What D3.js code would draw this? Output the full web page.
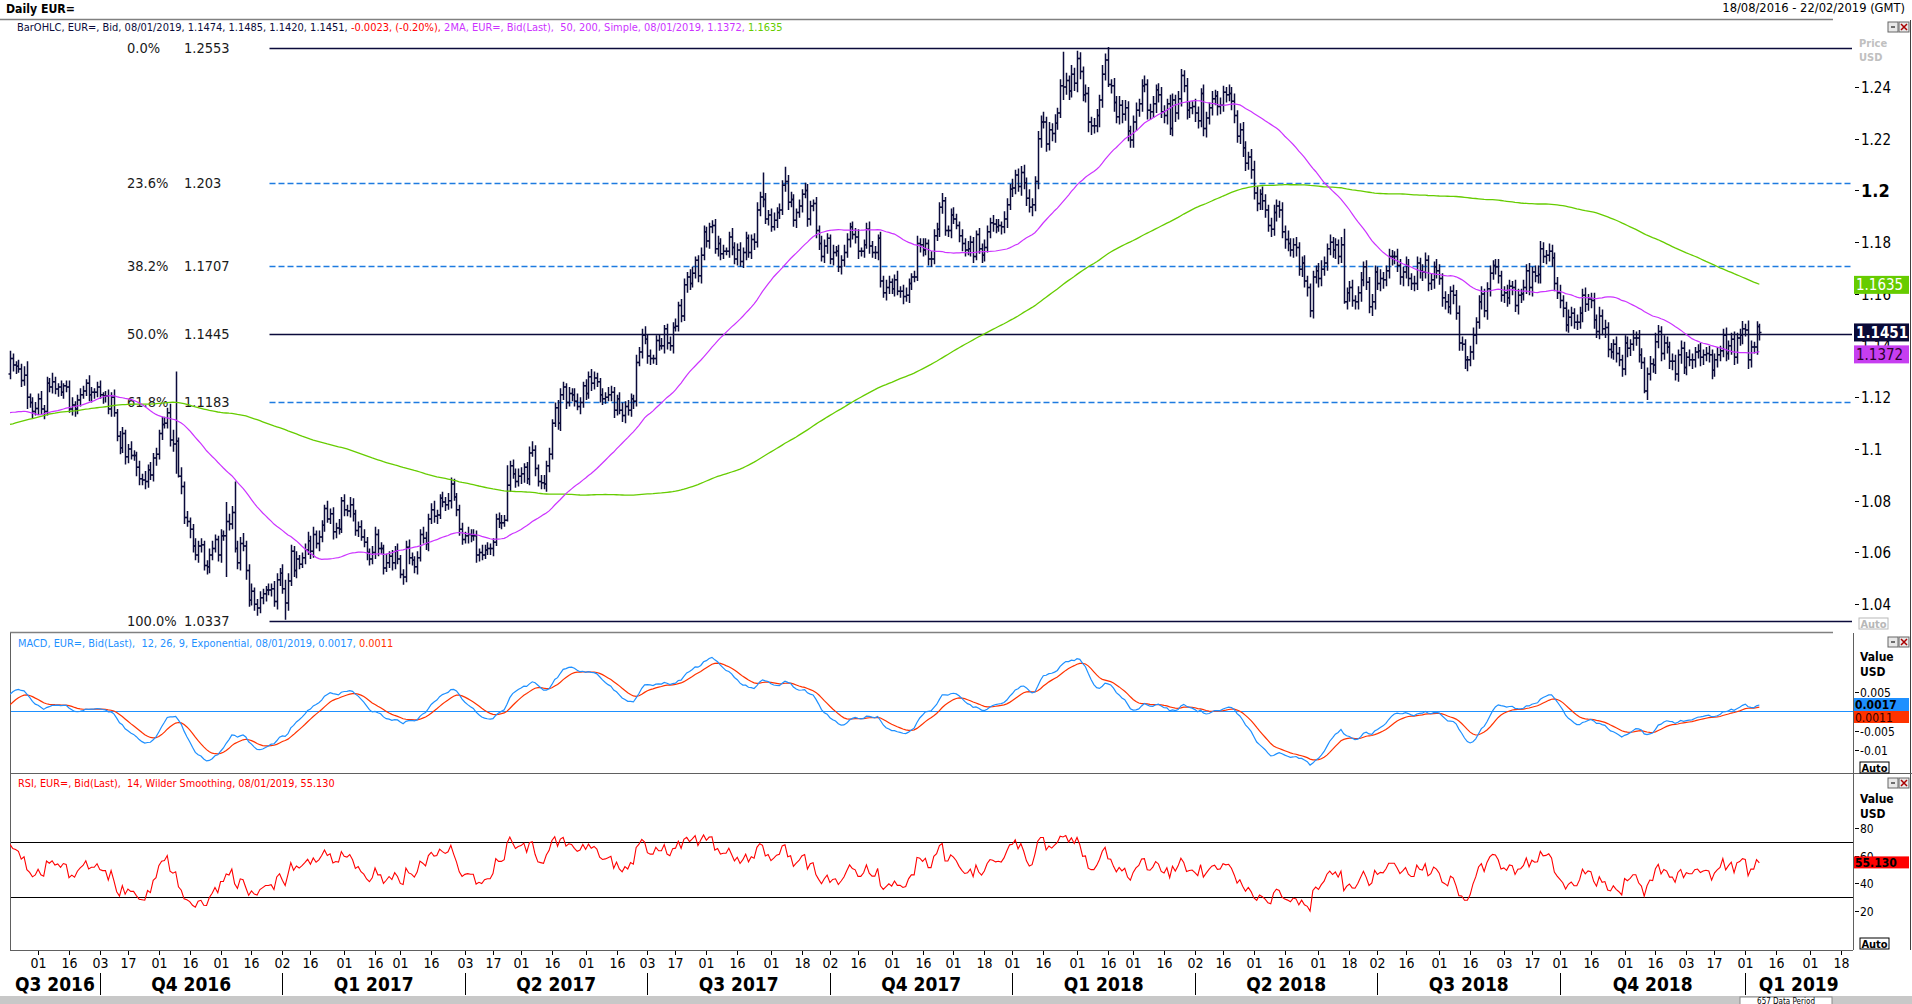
<!DOCTYPE html>
<html>
<head>
<meta charset="utf-8">
<script src="https://cdn.jsdelivr.net/npm/d3@7"></script>
<style>
body { margin: 0; background: #fff; overflow: hidden; }
svg { display: block; font-family: "DejaVu Sans Condensed", "DejaVu Sans", sans-serif; font-stretch: condensed; }
text { white-space: pre; }
</style>
</head>
<body>
<svg id="chart" width="1912" height="1004"></svg>
<script>
// daily closes before the visible window (Nov 2015 - 17 Aug 2016), needed by the 200 day average
var preCloses = [
1.1015,1.0955,1.0865,1.0880,1.0740,
1.0750,1.0725,1.0735,1.0815,1.0770,
1.0685,1.0645,1.0660,1.0735,1.0645,
1.0635,1.0645,1.0625,1.0615,1.0595,
1.0565,1.0630,1.0610,1.0940,1.0885,
1.0835,1.0895,1.1020,1.0990,1.0990,
1.0995,1.0935,1.0940,1.0830,1.0865,
1.0920,1.0960,1.0920,1.0960,1.0965,
1.0975,1.0930,1.0935,1.0860,1.0860,
1.0830,1.0745,1.0780,1.0930,1.0920,
1.0855,1.0850,1.0875,1.0865,1.0915,
1.0890,1.0895,1.0890,1.0875,1.0795,
1.0845,1.0870,1.0895,1.0940,1.0830,
1.0890,1.0920,1.1105,1.1210,1.1155,
1.1195,1.1285,1.1255,1.1320,1.1255,
1.1150,1.1145,1.1130,1.1105,1.1130,
1.1020,1.1025,1.1015,1.1020,1.0935,
1.0875,1.0870,1.0865,1.0955,1.1005,
1.1015,1.1005,1.0995,1.1180,1.1155,
1.1105,1.1090,1.1225,1.1305,1.1270,
1.1245,1.1220,1.1180,1.1180,1.1165,
1.1200,1.1300,1.1340,1.1380,1.1390,
1.1390,1.1385,1.1405,1.1380,1.1395,
1.1450,1.1385,1.1275,1.1265,1.1285,
1.1315,1.1355,1.1290,1.1225,1.1225,
1.1265,1.1300,1.1325,1.1355,1.1455,
1.1535,1.1500,1.1490,1.1400,1.1405,
1.1385,1.1370,1.1430,1.1370,1.1310,
1.1315,1.1315,1.1220,1.1200,1.1225,
1.1225,1.1140,1.1160,1.1195,1.1115,
1.1140,1.1130,1.1185,1.1155,1.1365,
1.1355,1.1360,1.1395,1.1315,1.1250,
1.1290,1.1215,1.1260,1.1220,1.1280,
1.1320,1.1280,1.1295,1.1380,1.1115,
1.1025,1.1065,1.1120,1.1105,1.1140,
1.1150,1.1070,1.1095,1.1060,1.1050,
1.1060,1.1055,1.1090,1.1125,1.1045,
1.1070,1.1015,1.1025,1.1025,1.0975,
1.0995,1.0985,1.1060,1.1075,1.1170,
1.1160,1.1225,1.1150,1.1125,1.1085,
1.1085,1.1080,1.1170,1.1140,1.1160,
1.1185,1.1280,1.1290
];

// daily closes, 18 Aug 2016 - 8 Jan 2019, one week per line
var closes = [
1.1350,1.1325,
1.1320,1.1310,1.1265,1.1285,1.1200,
1.1180,1.1145,1.1157,1.1195,1.1155,
1.1145,1.1255,1.1240,1.1260,1.1232,
1.1240,1.1220,1.1245,1.1240,1.1155,
1.1170,1.1155,1.1190,1.1210,1.1225,
1.1255,1.1210,1.1220,1.1220,1.1240,
1.1210,1.1205,1.1205,1.1155,1.1200,
1.1140,1.1050,1.1005,1.1060,1.0970,
1.1000,1.0975,1.0975,1.0930,1.0885,
1.0880,1.0875,1.0920,1.0900,1.0965,
1.0980,1.1060,1.1095,1.1100,1.1140,
1.1035,1.1020,1.1030,1.0895,1.0855,
1.0735,1.0720,1.0690,1.0625,1.0590,
1.0625,1.0630,1.0550,1.0545,1.0590,
1.0615,1.0650,1.0590,1.0665,1.0665,
1.0720,1.0710,1.0755,1.0615,1.0560,
1.0635,1.0625,1.0530,1.0415,1.0450,
1.0400,1.0385,1.0425,1.0440,1.0455,
1.0455,1.0460,1.0410,1.0495,1.0520,
1.0460,1.0405,1.0490,1.0605,1.0530,
1.0575,1.0555,1.0580,1.0610,1.0645,
1.0605,1.0670,1.0635,1.0660,1.0705,
1.0770,1.0730,1.0750,1.0680,1.0695,
1.0690,1.0800,1.0765,1.0760,1.0785,
1.0750,1.0685,1.0700,1.0660,1.0640,
1.0600,1.0575,1.0600,1.0670,1.0615,
1.0615,1.0540,1.0560,1.0585,1.0560,
1.0605,1.0575,1.0515,1.0505,1.0620,
1.0580,1.0570,1.0545,1.0580,1.0670,
1.0655,1.0635,1.0730,1.0765,1.0740,
1.0745,1.0810,1.0795,1.0785,1.0800,
1.0865,1.0815,1.0765,1.0690,1.0650,
1.0665,1.0670,1.0665,1.0665,1.0590,
1.0600,1.0590,1.0610,1.0615,1.0615,
1.0640,1.0730,1.0715,1.0715,1.0725,
1.0860,1.0935,1.0905,1.0875,1.0895,
1.0905,1.0930,1.0885,1.0985,1.0995,
1.0925,1.0875,1.0870,1.0865,1.0935,
1.0980,1.1100,1.1160,1.1100,1.1210,
1.1240,1.1180,1.1215,1.1210,1.1185,
1.1165,1.1180,1.1245,1.1215,1.1280,
1.1255,1.1275,1.1260,1.1210,1.1195,
1.1200,1.1210,1.1220,1.1150,1.1195,
1.1150,1.1130,1.1165,1.1150,1.1195,
1.1185,1.1335,1.1375,1.1440,1.1425,
1.1360,1.1350,1.1350,1.1420,1.1400,
1.1400,1.1465,1.1410,1.1400,1.1470,
1.1475,1.1555,1.1515,1.1635,1.1665,
1.1640,1.1680,1.1730,1.1670,1.1750,
1.1840,1.1805,1.1860,1.1865,1.1775,
1.1795,1.1755,1.1765,1.1765,1.1820,
1.1780,1.1735,1.1770,1.1725,1.1760,
1.1815,1.1760,1.1810,1.1800,1.1925,
1.1975,1.1965,1.1890,1.1905,1.1860,
1.1885,1.1915,1.1925,1.2020,1.2035,
1.1955,1.1965,1.1885,1.1915,1.1940,
1.1985,1.2000,1.1890,1.1940,1.1950,
1.1845,1.1795,1.1745,1.1785,1.1815,
1.1735,1.1760,1.1765,1.1705,1.1730,
1.1760,1.1810,1.1860,1.1830,1.1820,
1.1765,1.1765,1.1790,1.1850,1.1785,
1.1760,1.1760,1.1815,1.1650,1.1605,
1.1625,1.1645,1.1620,1.1655,1.1610,
1.1610,1.1590,1.1595,1.1640,1.1665,
1.1665,1.1795,1.1790,1.1770,1.1795,
1.1735,1.1735,1.1825,1.1850,1.1935,
1.1960,1.1845,1.1845,1.1905,1.1890,
1.1865,1.1825,1.1795,1.1770,1.1775,
1.1800,1.1745,1.1830,1.1775,1.1750,
1.1780,1.1840,1.1875,1.1870,1.1860,
1.1865,1.1860,1.1890,1.1945,1.2005,
1.2010,1.2060,1.2015,1.2070,1.2030,
1.1970,1.1935,1.1945,1.2035,1.2200,
1.2265,1.2265,1.2180,1.2235,1.2220,
1.2260,1.2300,1.2405,1.2400,1.2425,
1.2385,1.2450,1.2415,1.2510,1.2460,
1.2370,1.2375,1.2265,1.2250,1.2250,
1.2290,1.2350,1.2450,1.2505,1.2410,
1.2405,1.2340,1.2285,1.2330,1.2295,
1.2320,1.2230,1.2195,1.2265,1.2310,
1.2335,1.2405,1.2410,1.2310,1.2305,
1.2335,1.2390,1.2370,1.2305,1.2290,
1.2335,1.2240,1.2350,1.2300,1.2355,
1.2445,1.2405,1.2310,1.2320,1.2325,
1.2300,1.2270,1.2375,1.2240,1.2280,
1.2320,1.2355,1.2365,1.2325,1.2330,
1.2380,1.2370,1.2375,1.2345,1.2290,
1.2210,1.2235,1.2165,1.2105,1.2130,
1.2080,1.1990,1.1950,1.1985,1.1960,
1.1925,1.1865,1.1850,1.1915,1.1940,
1.1925,1.1840,1.1810,1.1795,1.1770,
1.1790,1.1780,1.1695,1.1720,1.1650,
1.1625,1.1535,1.1665,1.1690,1.1660,
1.1695,1.1720,1.1775,1.1800,1.1770,
1.1790,1.1745,1.1790,1.1570,1.1605,
1.1625,1.1575,1.1570,1.1605,1.1655,
1.1705,1.1645,1.1550,1.1570,1.1685,
1.1640,1.1660,1.1655,1.1690,1.1745,
1.1745,1.1745,1.1710,1.1665,1.1685,
1.1710,1.1660,1.1640,1.1640,1.1720,
1.1690,1.1685,1.1730,1.1640,1.1655,
1.1705,1.1690,1.1660,1.1585,1.1570,
1.1550,1.1610,1.1595,1.1525,1.1410,
1.1405,1.1345,1.1345,1.1375,1.1440,
1.1490,1.1570,1.1600,1.1535,1.1620,
1.1680,1.1710,1.1705,1.1670,1.1595,
1.1605,1.1585,1.1630,1.1625,1.1555,
1.1595,1.1600,1.1625,1.1690,1.1625,
1.1685,1.1670,1.1675,1.1775,1.1745,
1.1750,1.1765,1.1740,1.1640,1.1605,
1.1575,1.1545,1.1480,1.1510,1.1525,
1.1490,1.1490,1.1525,1.1595,1.1560,
1.1580,1.1575,1.1500,1.1455,1.1515,
1.1465,1.1470,1.1385,1.1375,1.1405,
1.1370,1.1345,1.1310,1.1410,1.1390,
1.1405,1.1430,1.1430,1.1365,1.1335,
1.1225,1.1290,1.1330,1.1325,1.1415,
1.1455,1.1370,1.1410,1.1395,1.1340,
1.1340,1.1290,1.1365,1.1390,1.1315,
1.1355,1.1345,1.1345,1.1375,1.1380,
1.1355,1.1365,1.1370,1.1365,1.1305,
1.1345,1.1365,1.1380,1.1440,1.1370,
1.1400,1.1425,1.1355,1.1430,1.1440,
1.1465,1.1460,1.1345,1.1395,1.1395,
1.1474,1.1451
];

// pips above max(open, close) and below min(open, close), ten bars per line
var upWick = [
30,20,15,25,20,35,55,15,20,25,
20,30,15,25,20,35,20,15,25,10,
20,25,30,15,20,25,20,15,30,20,
15,20,25,10,20,25,20,30,15,20,
25,15,20,30,20,15,25,20,35,20,
30,20,25,15,30,25,20,35,40,270,
15,35,20,25,15,20,30,20,25,15,
20,25,30,20,15,25,20,75,30,25,
120,30,25,40,20,25,30,15,20,25,
20,15,25,20,30,25,20,35,35,30,
25,20,30,15,20,25,35,20,30,15,
25,20,15,30,20,25,20,35,15,25,
20,30,25,15,20,25,30,20,15,25,
30,20,25,15,35,20,25,20,30,15,
20,25,30,20,15,25,20,30,25,20,
25,35,20,15,25,20,30,25,20,15,
20,25,15,30,20,25,20,15,30,20,
25,20,15,20,25,30,20,77,20,25,
20,30,25,15,20,25,35,20,15,25,
30,20,25,15,20,30,25,20,15,25,
20,25,30,20,15,25,20,30,25,20,
15,25,20,30,25,20,15,25,30,20,
25,20,15,30,20,25,35,20,25,15,
20,25,30,15,20,25,20,30,15,25,
25,20,30,25,15,20,30,25,20,15,
20,25,30,20,25,15,20,35,20,25,
30,20,25,15,20,25,30,20,95,25,
20,25,30,20,25,20,57,25,30,20,
15,25,20,30,25,20,15,25,20,30,
25,20,15,30,20,25,20,30,25,15,
20,25,30,15,20,25,30,20,25,15,
25,20,30,25,15,20,35,20,25,30,
20,15,25,30,20,25,20,15,30,25,
25,20,30,15,20,25,30,20,15,25,
20,30,25,20,15,25,20,30,25,20,
30,20,25,15,30,25,20,35,20,25,
25,30,20,35,25,20,30,25,40,20,
30,25,35,20,25,132,30,20,35,25,
30,25,20,35,25,20,30,25,20,35,
25,50,20,30,25,35,20,30,25,20,
25,30,20,25,35,20,25,30,20,25,
30,25,20,35,25,20,30,25,20,30,
25,20,30,25,20,35,25,20,30,25,
20,30,25,20,35,25,30,20,25,30,
25,20,30,35,25,20,30,25,20,30,
30,25,20,30,25,35,20,25,30,20,
25,30,20,15,25,20,30,35,25,20,
30,20,25,20,30,62,20,25,30,20,
25,30,20,25,20,30,25,20,35,25,
20,30,25,20,30,25,20,35,25,20,
30,25,20,25,30,20,25,20,30,25,
20,25,30,20,25,20,30,25,20,15,
25,30,20,25,30,20,25,30,20,25,
30,20,25,30,25,20,30,25,20,30,
25,30,20,25,35,30,25,20,30,25,
20,25,30,20,25,30,25,20,30,25,
25,30,20,25,30,20,35,25,30,20,
25,20,30,25,20,30,25,20,30,25,
30,25,20,25,30,20,35,25,20,30,
25,20,30,25,20,30,25,20,30,25,
20,25,30,20,25,30,20,25,30,20,
25,30,20,25,30,20,25,30,20,37,
25,20,20,11
];
var dnWick = [
20,25,30,15,25,20,45,20,25,15,
25,20,30,15,20,25,20,30,15,25,
20,15,25,30,20,25,15,20,25,30,
25,20,15,30,25,20,30,15,20,25,
20,30,25,15,20,35,25,20,30,25,
20,25,30,20,25,15,20,25,30,115,
5,30,25,20,35,25,20,30,25,20,
30,25,20,15,25,30,20,160,25,20,
15,25,30,20,35,25,20,25,30,20,
25,30,20,25,20,30,25,20,65,30,
20,25,30,20,15,25,20,30,25,20,
30,20,25,15,20,30,25,20,15,25,
20,25,30,20,25,15,20,30,25,20,
25,30,20,25,15,20,30,25,20,15,
30,20,25,20,25,30,15,20,25,30,
20,25,30,15,20,25,20,30,15,25,
25,20,15,30,25,20,30,25,20,15,
20,25,30,15,20,25,15,5,25,20,
25,20,30,35,20,25,15,30,20,25,
20,30,25,20,15,25,30,20,25,15,
25,20,15,30,20,25,20,30,25,20,
30,25,20,15,25,30,20,15,25,30,
20,25,30,20,15,25,20,30,25,20,
25,20,15,30,25,20,30,15,20,25,
20,30,25,15,20,25,30,20,25,30,
25,20,30,25,20,15,25,30,20,25,
20,25,30,20,25,30,20,25,30,20,
25,20,15,30,25,20,25,30,20,25,
30,20,25,15,30,25,20,30,25,20,
25,30,20,25,15,20,30,25,20,30,
20,25,30,20,25,15,30,20,25,30,
25,20,30,25,20,30,15,25,30,20,
30,25,20,15,30,25,20,25,30,20,
20,30,25,20,25,30,20,15,25,30,
25,20,30,25,15,20,30,25,20,25,
30,25,20,30,25,35,20,30,25,20,
35,25,30,20,35,25,30,35,25,30,
25,30,35,25,20,50,30,35,25,30,
35,30,25,30,40,35,30,25,45,30,
25,10,30,35,25,30,35,25,40,30,
30,35,25,30,25,35,30,25,35,30,
25,30,35,25,30,35,25,30,25,35,
30,25,35,30,25,30,35,25,30,25,
35,30,25,30,25,35,30,25,30,35,
30,25,35,25,30,25,35,30,25,30,
25,35,30,25,35,30,25,30,35,25,
30,25,35,25,30,25,35,30,25,30,
25,30,35,30,25,8,30,35,25,30,
30,35,25,30,25,35,30,25,30,35,
25,30,35,30,25,30,35,25,30,25,
30,25,30,35,25,30,25,35,30,25,
35,30,25,30,35,25,30,25,35,44,
25,30,35,25,30,25,35,30,25,30,
30,25,30,35,25,30,25,35,30,25,
25,30,35,25,30,35,25,30,25,35,
30,25,30,35,25,30,35,25,30,25,
35,30,25,30,35,25,30,25,35,30,
25,30,35,25,30,25,35,30,25,30,
30,25,9,35,25,30,35,25,30,25,
25,30,35,25,30,35,25,30,25,35,
30,25,35,30,25,30,35,25,30,25,
25,30,25,35,30,25,30,35,25,35,
30,25,30,31
];

var fibPct = ["0.0%", "23.6%", "38.2%", "50.0%", "61.8%", "100.0%"];
var fibLevel = [1.2553, 1.203, 1.1707, 1.1445, 1.1183, 1.0337];
var fibText = ["1.2553", "1.203", "1.1707", "1.1445", "1.1183", "1.0337"];
var priceTicks = [1.04, 1.06, 1.08, 1.1, 1.12, 1.14, 1.16, 1.18, 1.2, 1.22, 1.24];
var macdTicks = [0.005, -0.005, -0.01];
var rsiTicks = [20, 40, 60, 80];
var lastOHLC = ["1.1474", "1.1485", "1.1420", "1.1451"];
var lastChange = "-0.0023, (-0.20%)";
var maLast = [1.1372, 1.1635];
var macdLast = [0.0017, 0.0011];
var rsiLast = 55.130;
var periodCount = 657;

var svg = d3.select("#chart");
var NAVY = "#0b0b3b", FIBBLUE = "#1e7be0", MAGENTA = "#cc33ff", GREEN = "#66cc00";
var MACDBLUE = "#1e90ff", MACDRED = "#ff3300";

// business days from 18 Aug 2016 to 22 Feb 2019
var days = [], d = new Date(2016, 7, 18);
while (days.length < periodCount) {
    if (d.getDay() % 6 !== 0) days.push(new Date(d));
    d.setDate(d.getDate() + 1);
}

var x = d3.scaleLinear().domain([0, periodCount - 1]).range([10, 1852]);
var y = d3.scaleLinear().domain([1.0337, 1.2553]).range([620.5, 47.5]);
var ym = d3.scaleLinear().domain([-0.01, 0.005]).range([750.2, 691.7]);
var yr = d3.scaleLinear().domain([20, 80]).range([911, 828]);

// indicators
var all = preCloses.concat(closes), off = preCloses.length;
function sma(n) {
    return closes.map(function(c, i) {
        var s = 0;
        for (var k = i + off - n + 1; k <= i + off; k++) s += all[k];
        return s / n;
    });
}
function ema(arr, n) {
    var a = 2 / (n + 1), e = arr[0];
    return arr.map(function(v, i) { e = i ? a * v + (1 - a) * e : v; return e; });
}
var ma50 = sma(50), ma200 = sma(200);
var e12 = ema(all, 12), e26 = ema(all, 26);
var macdAll = e12.map(function(v, i) { return v - e26[i]; });
var sigAll = ema(macdAll, 9);
var macd = macdAll.slice(off), signal = sigAll.slice(off);
var rsiAll = [], ag = 0, al = 0;
for (var i = 1; i < all.length; i++) {
    var ch = all[i] - all[i - 1], g = Math.max(ch, 0), l = Math.max(-ch, 0);
    if (i <= 14) { ag += g / 14; al += l / 14; }
    else { ag = (ag * 13 + g) / 14; al = (al * 13 + l) / 14; }
    rsiAll[i] = al === 0 ? 100 : 100 - 100 / (1 + ag / al);
}
var rsi = rsiAll.slice(off);

function txt(g, xx, yy, s, size, fill, weight, anchor) {
    return g.append("text").attr("x", xx).attr("y", yy).text(s)
        .attr("font-size", size).attr("fill", fill || "#000")
        .attr("font-weight", weight || "normal").attr("text-anchor", anchor || "start");
}
function fit(sel, w) {
    var bw = sel.node().getComputedTextLength();
    sel.attr("font-size", parseFloat(sel.attr("font-size")) * w / bw);
}
function hline(x1, x2, yy, col, sw, dash) {
    svg.append("line").attr("x1", x1).attr("x2", x2).attr("y1", yy).attr("y2", yy)
        .attr("stroke", col).attr("stroke-width", sw || 1).attr("stroke-dasharray", dash || null);
}
function vline(xx, y1, y2, col, sw) {
    svg.append("line").attr("x1", xx).attr("x2", xx).attr("y1", y1).attr("y2", y2)
        .attr("stroke", col).attr("stroke-width", sw || 1);
}
function winIcons(yy) {
    [1888, 1899].forEach(function(xx, k) {
        svg.append("rect").attr("x", xx).attr("y", yy).attr("width", 10).attr("height", 10)
            .attr("fill", "#e8e8e8").attr("stroke", "#666");
        if (k === 0) hline(xx + 3, xx + 7, yy + 5, "#444", 1.5);
        else svg.append("path").attr("d", "M" + (xx + 2) + "," + (yy + 2) + "l6,6m0,-6l-6,6")
            .attr("stroke", "#a00").attr("stroke-width", 1.5);
    });
}
function autoBox(xx, yy, col) {
    svg.append("rect").attr("x", xx).attr("y", yy).attr("width", 29).attr("height", 11)
        .attr("fill", "#fff").attr("stroke", col);
    txt(svg, xx + 14.5, yy + 9.5, "Auto", 11, col, "bold", "middle");
}
function tag(yc, label, bg, fg, weight) {
    svg.append("rect").attr("x", 1854).attr("y", yc - 9).attr("width", 55).attr("height", 18).attr("fill", bg);
    txt(svg, 1856, yc + 5.5, label, 15, fg, weight);
}

// header
fit(txt(svg, 6, 13, "Daily EUR=", 13, "#000", "bold"), 69);
fit(txt(svg, 1905, 12, "18/08/2016 - 22/02/2019 (GMT)", 13, "#000", "normal", "end"), 183);
hline(0, 1833, 19.5, "#808080", 1.5);
var leg = svg.append("text").attr("x", 17).attr("y", 31).attr("font-size", 11);
leg.append("tspan").attr("fill", NAVY).text("BarOHLC, EUR=, Bid, 08/01/2019, " + lastOHLC.join(", ") + ", ");
leg.append("tspan").attr("fill", "#ff0000").text(lastChange + ", ");
leg.append("tspan").attr("fill", MAGENTA).text("2MA, EUR=, Bid(Last),  50, 200, Simple, 08/01/2019, " + maLast[0].toFixed(4) + ", ");
leg.append("tspan").attr("fill", GREEN).text(maLast[1].toFixed(4));
fit(leg, 767);
winIcons(22);
txt(svg, 1859, 47, "Price", 11, "#c0c0c0", "bold");
txt(svg, 1859, 61, "USD", 11, "#c0c0c0", "bold");

// fibonacci retracement
fibLevel.forEach(function(v, k) {
    var solid = (k === 0 || k === 3 || k === 5);
    hline(269.5, 1852, Math.round(y(v)) + 0.5, solid ? NAVY : FIBBLUE, 1.5, solid ? null : "6,3");
    txt(svg, 127, y(v) + 5, fibPct[k], 14.5, "#1a1a1a");
    txt(svg, 184, y(v) + 5, fibText[k], 14.5, "#1a1a1a");
});

// OHLC bars
svg.append("g").selectAll("path").data(closes).enter().append("path")
    .attr("d", function(c, i) {
        var o = i ? closes[i - 1] : preCloses[preCloses.length - 1];
        var h = Math.max(o, c) + (upWick[i] || 0) / 10000;
        var lo = Math.min(o, c) - (dnWick[i] || 0) / 10000;
        var xx = Math.round(x(i)) + 0.5;
        return "M" + xx + "," + y(h) + "V" + y(lo) + "M" + (xx - 2) + "," + y(o) + "H" + xx +
            "M" + xx + "," + y(c) + "H" + (xx + 2);
    })
    .attr("fill", "none").attr("stroke", NAVY).attr("stroke-width", 1.5);

// moving averages
var lineP = function(arr, sc) {
    return d3.line().x(function(v, i) { return x(i); }).y(function(v) { return sc(v); })(arr);
};
svg.append("path").attr("d", lineP(ma200, y)).attr("fill", "none").attr("stroke", GREEN).attr("stroke-width", 1.3);
svg.append("path").attr("d", lineP(ma50, y)).attr("fill", "none").attr("stroke", MAGENTA).attr("stroke-width", 1.2);

// price axis
priceTicks.forEach(function(v) {
    var yy = Math.round(y(v)) + 0.5, big = Math.abs(v - 1.2) < 1e-9;
    hline(1855, 1859, yy, "#000", 1);
    txt(svg, 1861, yy + (big ? 6.5 : 5.5), String(+v.toFixed(2)), big ? 18 : 15, "#000", big ? "bold" : "normal");
});
tag(y(maLast[1]), maLast[1].toFixed(4), GREEN, "#fff");
tag(y(closes[closes.length - 1]), closes[closes.length - 1].toFixed(4), "#0a0a38", "#fff", "bold");
tag(y(maLast[0]) + 1.5, maLast[0].toFixed(4), "#c63ef0", "#2a002a");
autoBox(1859, 618, "#b8b8b8");
vline(1910.5, 20, 950, "#404040", 1);

// panel frames
hline(10, 1833, 632.5, "#808080", 1.5);
vline(10.5, 633, 950, "#606060", 1);
vline(1853.5, 633, 950, "#606060", 1);
hline(10, 1912, 773.5, "#606060", 1);
hline(10, 1853, 950.5, "#606060", 1);

// MACD panel
svg.append("clipPath").attr("id", "cm").append("rect").attr("x", 10).attr("y", 634).attr("width", 1843).attr("height", 139);
hline(11, 1853, Math.round(ym(0)) + 0.5, MACDBLUE, 1.2);
var gm = svg.append("g").attr("clip-path", "url(#cm)");
gm.append("path").attr("d", lineP(signal, ym)).attr("fill", "none").attr("stroke", MACDRED).attr("stroke-width", 1.2);
gm.append("path").attr("d", lineP(macd, ym)).attr("fill", "none").attr("stroke", MACDBLUE).attr("stroke-width", 1.2);
var ml = svg.append("text").attr("x", 18).attr("y", 647).attr("font-size", 11);
ml.append("tspan").attr("fill", MACDBLUE).text("MACD, EUR=, Bid(Last),  12, 26, 9, Exponential, 08/01/2019, " + macdLast[0].toFixed(4) + ", ");
ml.append("tspan").attr("fill", MACDRED).text(macdLast[1].toFixed(4));
fit(ml, 376);
winIcons(637);
txt(svg, 1860, 661, "Value", 12, "#000", "bold");
txt(svg, 1860, 676, "USD", 12, "#000", "bold");
macdTicks.forEach(function(v) {
    var yy = Math.round(ym(v)) + 0.5;
    hline(1855, 1859, yy, "#000", 1);
    txt(svg, 1860, yy + 4.5, String(v), 12, "#000");
});
svg.append("rect").attr("x", 1854).attr("y", 698).attr("width", 55).attr("height", 13).attr("fill", MACDBLUE);
txt(svg, 1855, 709, macdLast[0].toFixed(4), 12, "#000", "bold");
svg.append("rect").attr("x", 1854).attr("y", 711).attr("width", 55).attr("height", 12).attr("fill", MACDRED);
txt(svg, 1855, 721.5, macdLast[1].toFixed(4), 12, "#300");
autoBox(1860, 762, "#000");

// RSI panel
svg.append("clipPath").attr("id", "cr").append("rect").attr("x", 10).attr("y", 775).attr("width", 1843).attr("height", 175);
hline(11, 1853, Math.round(yr(70)) + 0.5, "#000", 1);
hline(11, 1853, Math.round(yr(30)) + 0.5, "#000", 1);
svg.append("g").attr("clip-path", "url(#cr)").append("path").attr("d", lineP(rsi, yr))
    .attr("fill", "none").attr("stroke", "#ff0000").attr("stroke-width", 1.1);
fit(txt(svg, 18, 787, "RSI, EUR=, Bid(Last),  14, Wilder Smoothing, 08/01/2019, " + rsiLast.toFixed(3), 11, "#ff0000"), 317);
winIcons(778);
txt(svg, 1860, 803, "Value", 12, "#000", "bold");
txt(svg, 1860, 818, "USD", 12, "#000", "bold");
rsiTicks.forEach(function(v) {
    var yy = Math.round(yr(v)) + 0.5;
    hline(1855, 1859, yy, "#000", 1);
    txt(svg, 1860, yy + 4.5, String(v), 12, "#000");
});
svg.append("rect").attr("x", 1854).attr("y", yr(rsiLast) - 6).attr("width", 55).attr("height", 12).attr("fill", "#ff0000");
txt(svg, 1855, yr(rsiLast) + 4.5, rsiLast.toFixed(3), 12, "#000", "bold");
autoBox(1860, 938, "#000");

// date axis
var fmtDay = d3.timeFormat("%d");
for (var t = 1; t < days.length; t++) {
    var p = days[t - 1], c = days[t];
    if (c.getMonth() !== p.getMonth() || (c.getDate() >= 16 && p.getDate() < 16)) {
        var tx = Math.round(x(t)) + 0.5;
        vline(tx, 951, 955, "#000", 1);
        txt(svg, tx, 968, fmtDay(c), 14, "#000", "normal", "middle");
    }
}
var qStarts = [0];
for (var q = 1; q < days.length; q++) {
    if (Math.floor(days[q].getMonth() / 3) !== Math.floor(days[q - 1].getMonth() / 3)) qStarts.push(q);
}
qStarts.forEach(function(s, k) {
    var e = k + 1 < qStarts.length ? qStarts[k + 1] : days.length - 1;
    var x0 = x(s), x1 = x(e);
    if (k > 0) vline(Math.round(x0) + 0.5, 973, 995, "#000", 1);
    var dd = days[s];
    txt(svg, (x0 + x1) / 2, 991, "Q" + (Math.floor(dd.getMonth() / 3) + 1) + " " + dd.getFullYear(), 19, "#000", "bold", "middle");
});

// scroll strip
svg.append("rect").attr("x", 0).attr("y", 996).attr("width", 1912).attr("height", 8).attr("fill", "#c8c8c8");
svg.append("rect").attr("x", 1740).attr("y", 997).attr("width", 92).attr("height", 8).attr("fill", "#fff").attr("stroke", "#888");
txt(svg, 1786, 1003.5, periodCount + " Data Period", 8, "#000", "normal", "middle");
</script>
</body>
</html>
